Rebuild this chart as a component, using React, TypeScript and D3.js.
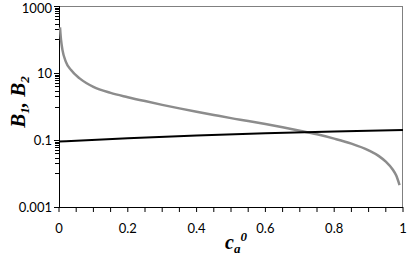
import React from "react";
import * as d3 from "d3";

const cB2 = [0.003, 0.004, 0.006, 0.01, 0.02, 0.035, 0.06, 0.1, 0.15, 0.2, 0.25, 0.3, 0.35, 0.4, 0.45, 0.5, 0.55, 0.6, 0.65, 0.7, 0.75, 0.8, 0.85, 0.9, 0.93, 0.95, 0.97, 0.98, 0.99];
const valB2 = [230, 160, 95, 49, 21.5, 12.2, 6.9, 3.85, 2.55, 1.9, 1.45, 1.12, 0.88, 0.7, 0.56, 0.45, 0.37, 0.3, 0.24, 0.19, 0.148, 0.11, 0.078, 0.049, 0.033, 0.0225, 0.0132, 0.0088, 0.0045];
const cB1 = [0, 0.2, 0.4, 0.6, 0.8, 1];
const valB1 = [0.09, 0.113, 0.136, 0.158, 0.18, 0.2];
const xTicks = [0, 0.2, 0.4, 0.6, 0.8, 1];
const xTickLabels = ["0", "0.2", "0.4", "0.6", "0.8", "1"];
const yTicks = [1000, 10, 0.1, 0.001];
const yTickLabels = ["1000", "10", "0.1", "0.001"];

const W = 407, H = 258;
const L = 59, R = 403, T = 6, B = 207;

export default function App() {
  const x = d3.scaleLinear().domain([0, 1]).range([L, R]);
  const y = d3.scaleLog().domain([0.001, 1000]).range([B, T]);
  const line = d3.line<[number, number]>().x(d => x(d[0])).y(d => y(d[1])).curve(d3.curveMonotoneX);
  const g2 = line(cB2.map((c, i) => [c, valB2[i]] as [number, number])) || "";
  const g1 = line(cB1.map((c, i) => [c, valB1[i]] as [number, number])) || "";
  const xMinor = d3.range(0, 21).map(i => i * 0.05);
  const yMinor: number[] = [];
  [1000, 10, 0.1].forEach(u => { for (let k = 1; k <= 9; k++) yMinor.push(k * u / 10); });
  const font = "Lato, 'Open Sans', sans-serif";
  return (
    <svg width={W} height={H} style={{ position: "absolute", left: 0, top: 0 }}>
      <rect x={0} y={0} width={W} height={H} fill="#fff" />
      <line x1={L} x2={R} y1={T + 0.5} y2={T + 0.5} stroke="#808080" strokeWidth={1} />
      <line x1={R - 0.5} x2={R - 0.5} y1={T} y2={B} stroke="#808080" strokeWidth={1} />
      {xMinor.map((v, i) => (
        <line key={"xm" + i} x1={x(v)} x2={x(v)} y1={B} y2={B + 5} stroke="#000" strokeWidth={1} />
      ))}
      {yMinor.map((v, i) => (
        <line key={"ym" + i} x1={L - 4} x2={L} y1={Math.round(y(v)) + 0.5} y2={Math.round(y(v)) + 0.5} stroke="#000" strokeWidth={1} />
      ))}
      {yTicks.map((v, i) => (
        <line key={"yt" + i} x1={L - 5} x2={L} y1={Math.round(y(v)) + 0.5} y2={Math.round(y(v)) + 0.5} stroke="#000" strokeWidth={1} />
      ))}
      <line x1={L} x2={R} y1={B + 0.5} y2={B + 0.5} stroke="#000" strokeWidth={1} />
      <line x1={L + 0.5} x2={L + 0.5} y1={T} y2={B} stroke="#000" strokeWidth={1} />
      <path d={g2} fill="none" stroke="#8c8c8c" strokeWidth={2.5} />
      <path d={g1} fill="none" stroke="#000" strokeWidth={2} />
      {xTicks.map((v, i) => (
        <text key={"xl" + i} x={x(v)} y={233} textAnchor="middle" fontFamily={font} fontSize={13} fill="#000">{xTickLabels[i]}</text>
      ))}
      {yTicks.map((v, i) => (
        <text key={"yl" + i} x={52} y={Math.max(y(v) + 4.5, 12.5)} textAnchor="end" fontFamily={font} fontSize={13} fill="#000">{yTickLabels[i]}</text>
      ))}
      <text x={225} y={249} fontFamily="'Liberation Serif', serif" fontWeight="bold" fontStyle="italic" fontSize={20} fill="#000">
        c<tspan fontSize={13} dy={4}>a</tspan><tspan fontSize={13} dy={-12} dx={0}>0</tspan>
      </text>
      <text transform="translate(25,102) rotate(-90)" textAnchor="middle" fontFamily="'Liberation Serif', serif" fontWeight="bold" fontStyle="italic" fontSize={21} fill="#000">
        B<tspan fontSize={13} dy={4}>1</tspan><tspan dy={-4}>, B</tspan><tspan fontSize={13} dy={4}>2</tspan>
      </text>
    </svg>
  );
}
